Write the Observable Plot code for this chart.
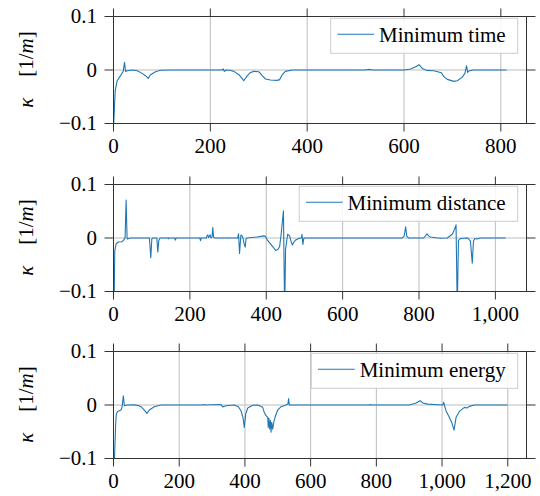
<!DOCTYPE html>
<html>
<head>
<meta charset="utf-8">
<script src="https://cdn.jsdelivr.net/npm/d3@7"></script>
<script src="https://cdn.jsdelivr.net/npm/@observablehq/plot@0.6"></script>
<style>
  html, body { margin: 0; padding: 0; background: white; font-family: "Liberation Serif"; }
  #chart { width: 540px; height: 496px; font-family: "Liberation Serif"; }
  #chart svg { display: block; font-family: "Liberation Serif" !important; }
  #chart svg text, #chart svg tspan { font-family: "Liberation Serif" !important; }
</style>
</head>
<body>
<div id="chart"></div>
<script>
// ---- data ----
const seriesNames = ["Minimum time", "Minimum distance", "Minimum energy"];
const xMax = [853, 1081.5, 1257];
const xTicks = [
  [0, 200, 400, 600, 800],
  [0, 200, 400, 600, 800, 1000],
  [0, 200, 400, 600, 800, 1000, 1200]
];
const yTicks = [-0.1, 0, 0.1];

const minTime = [
  [0.5,-0.1],[3.5,-0.0386],[7.6,-0.020],[14.5,-0.0106],[20,-0.0026],[22.8,0.0142],[24.8,-0.0026],
  [30,-0.001],[40,0],[49,-0.0013],[59,-0.0063],[66,-0.0106],[71.8,-0.0155],[76.4,-0.0088],
  [86.8,-0.0032],[97,-0.0005],[120,0],[200,0],[224,0],[226.6,0.002],[229,-0.0026],[232,0],
  [240,-0.0005],[248.6,-0.0026],[259,-0.0088],[269,-0.020],[276,-0.011],[283,-0.0045],
  [290,-0.0026],[300,-0.0032],[307,-0.0106],[314,-0.0168],[324,-0.0187],[338,-0.0194],
  [343,-0.018],[348.6,-0.0088],[355,-0.0026],[369,0],[450,0],[520,0],[528,0.0012],[536,0],
  [600,0],[613.6,0.0019],[624,0.0061],[631,0.0099],[637.8,0.003],[646.7,-0.0007],[661.8,-0.0013],
  [677,-0.005],[682.5,-0.0125],[689.4,-0.0175],[703,-0.0213],[710,-0.020],[720,-0.0138],
  [725.8,-0.0063],[729.3,0.008],[731.4,-0.0045],[735.5,-0.0013],[744,0],[811,0]
];

const minDistance = [
  [2,-0.1],[3.3,-0.0245],[6.8,-0.0107],[12.9,-0.0075],[21.6,-0.007],[26,-0.0044],[30.4,0.0006],
  [33,0.0709],[35.6,0],[36.5,-0.0019],[43.5,0],[94,0],[97.7,-0.037],[100.4,-0.0015],[104,0],
  [113.5,0],[116,-0.026],[118.7,-0.0044],[122,0],[143,0],[144,-0.0015],[145,0],[160,0],
  [162,-0.004],[164,0],[226,0],[227.8,-0.005],[229.5,0],[243,0],[245,0.0045],[247,0.0056],
  [249,0.001],[253,0.006],[255,0.0005],[258,0.002],[260,0.0194],[262,0.002],[264.5,0],[325,0],
  [327.5,0.008],[330,-0.029],[333.6,0.0056],[337,0.004],[339,0],[342.3,-0.0119],[345,-0.017],
  [347,-0.002],[350,0],[375,0.002],[393,0.004],[398,0.003],[401.6,-0.0025],[410,-0.01],
  [419,-0.018],[425,-0.0232],[431,-0.021],[435,-0.016],[439,0.007],[445,0.0508],[447.5,-0.1],
  [449,-0.1],[450.6,-0.021],[456,0.007],[461,0.004],[466,-0.0088],[468.5,-0.0132],[472,-0.008],
  [476,-0.0044],[485,-0.001],[492,0],[493.6,0.007],[496,-0.012],[498.6,0],[755,0],[761,0.003],
  [765,0.021],[768,0.003],[773,0],[812,0],[817,0.004],[821,0.008],[825,0.004],[830,0.002],
  [845,0.0005],[856,-0.0004],[874,0],[887,0.007],[893,0.016],[897,0.0245],[899.5,-0.1],
  [901,-0.1],[903.3,-0.0044],[908.5,-0.001],[927.6,0],[934.7,-0.006],[939.5,-0.047],[942.6,-0.006],
  [946,-0.001],[952,-0.002],[960,0],[1026,0]
];

const minEnergy = [
  [3,-0.1],[6.6,-0.0357],[8.6,-0.0169],[12.7,-0.012],[22.8,-0.0094],[25.9,-0.0044],[30,0.0174],
  [33,-0.0013],[41,0],[63,0.0003],[75,-0.001],[83.7,-0.0032],[93.8,-0.0094],[102,-0.0155],
  [109,-0.0094],[124,-0.0032],[144.6,0],[270,0],[275,0.0008],[278,0],[327,0.0008],
  [332.4,-0.0035],[340,-0.002],[347.6,-0.001],[367.7,0],[380,-0.0032],[388,-0.0107],
  [394,-0.023],[398,-0.042],[402.4,-0.017],[408.5,-0.0056],[423.7,-0.0005],[439,0],
  [454,-0.0044],[459,-0.0138],[464,-0.02],[469.4,-0.023],[471,-0.042],[473,-0.025],
  [475.5,-0.045],[477.6,-0.029],[479.5,-0.051],[481.5,-0.033],[484.6,-0.045],[487.6,-0.0326],
  [491.6,-0.023],[499.8,-0.0094],[510,-0.0032],[525,0],[531,0.002],[533,0.012],[535,0],
  [780,0],[782,0.0008],[784,0],[900,0],[921,0.0037],[933,0.0081],[942,0.0037],[956.6,0.0017],
  [987,0.0005],[1002,0],[1005,0.005],[1008,-0.002],[1012,-0.0107],[1022,-0.023],
  [1029.5,-0.0326],[1036.5,-0.047],[1042.6,-0.023],[1052.7,-0.012],[1068,-0.0044],
  [1076,-0.0056],[1083,-0.0026],[1098,0],[1198,0]
];

const allSeries = [minTime, minDistance, minEnergy];
const panelHeights = [168, 167, 161];
const panelBottoms = [45, 44, 38];

// ---- drawing ----
const FONT = "Liberation Serif";
const LINE = "#1f77b4";
const DARK = "#333";
const GRID = "#bdbdbd";
const yFmt = d => d === 0 ? "0" : d3.format(".1f")(d);
const xFmt = d3.format(",");
const blank = () => "";
const container = document.getElementById("chart");

allSeries.forEach((series, i) => {
  const data = series.map(([x, y]) => ({x, y}));
  const ticks = xTicks[i];
  const svg = Plot.plot({
    width: 540,
    height: panelHeights[i],
    marginLeft: 113,
    marginRight: 14,
    marginTop: 16,
    marginBottom: panelBottoms[i],
    style: "font-family: 'Liberation Serif'; font-size: 21px; background: white; color: black;",
    x: {domain: [0, xMax[i]]},
    y: {domain: [-0.1, 0.1]},
    marks: [
      Plot.gridX(ticks, {stroke: GRID, strokeOpacity: 1, strokeWidth: 1}),
      Plot.gridY([0], {stroke: GRID, strokeOpacity: 1, strokeWidth: 1}),
      Plot.line(data, {x: "x", y: "y", stroke: LINE, strokeWidth: 1.1}),
      Plot.frame({stroke: DARK, strokeWidth: 1}),
      Plot.axisX(ticks, {anchor: "bottom", tickSize: 8.5, tickPadding: 6, tickFormat: xFmt, label: null, stroke: DARK}),
      Plot.axisX(ticks, {anchor: "top", tickSize: 8.5, tickFormat: blank, label: null, stroke: DARK}),
      Plot.axisY(yTicks, {anchor: "left", tickSize: 8.5, tickPadding: 8, tickFormat: yFmt, label: null, stroke: DARK}),
      Plot.axisY(yTicks, {anchor: "right", tickSize: 8.5, tickFormat: blank, label: null, stroke: DARK})
    ]
  });
  svg.setAttribute("font-family", FONT);
  container.appendChild(svg);

  const sel = d3.select(svg);
  const y0 = svg.scale("y").apply(0);

  // y-axis label
  const lab = sel.append("text")
    .attr("transform", `translate(33,${y0}) rotate(-90)`)
    .attr("text-anchor", "middle")
    .attr("font-family", FONT)
    .attr("font-size", 21)
    .attr("fill", "black");
  lab.append("tspan").attr("font-style", "italic").text("κ");
  lab.append("tspan").text("\u2003[1/");
  lab.append("tspan").attr("font-style", "italic").text("m");
  lab.append("tspan").text("]");

  // legend
  const top = 16 + 2.3;
  const right = 517.7;
  const textRight = 505.7;
  const g = sel.append("g");
  const rect = g.append("rect");
  const ln = g.append("line");
  const txt = g.append("text")
    .attr("x", textRight)
    .attr("y", top + 23.4)
    .attr("text-anchor", "end")
    .attr("font-family", FONT)
    .attr("font-size", 21)
    .attr("fill", "black")
    .text(seriesNames[i]);
  const w = txt.node().getComputedTextLength();
  const start = textRight - w;
  rect.attr("x", start - 48.4).attr("y", top)
    .attr("width", right - (start - 48.4)).attr("height", 35)
    .attr("fill", "white").attr("fill-opacity", 0.85)
    .attr("stroke", "#cccccc").attr("stroke-width", 1);
  ln.attr("x1", start - 41.7).attr("x2", start - 5)
    .attr("y1", top + 16).attr("y2", top + 16)
    .attr("stroke", LINE).attr("stroke-width", 1.1);
});
</script>
</body>
</html>
